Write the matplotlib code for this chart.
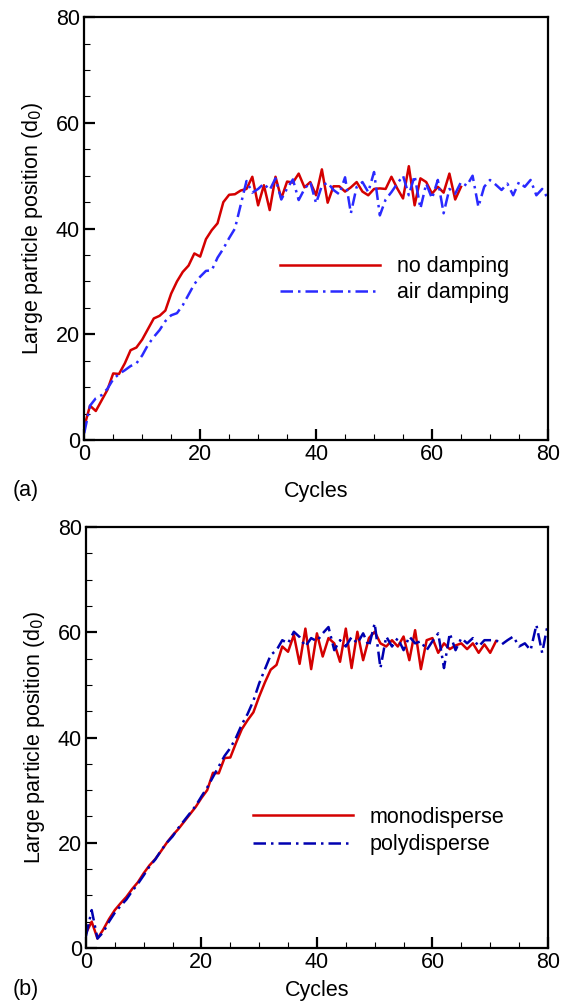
import numpy as np
import matplotlib
matplotlib.use('Agg')
from matplotlib import pyplot as plt
from matplotlib.ticker import MultipleLocator

plt.rcParams['font.family'] = ['Liberation Sans', 'DejaVu Sans']

# (a) no damping vs air damping, one value per cycle
nodamp_x = np.arange(0, 66)
nodamp_y = [2.5, 6.5, 5.5, 7.5, 9.5, 12.6, 12.5, 14.5, 17, 17.5,
            19, 21, 23, 23.5, 24.5, 27.7, 30, 31.8, 33, 35.3,
            34.7, 38, 39.7, 41, 45, 46.4, 46.5, 47.2, 47.5, 49.8,
            44.4, 48.2, 43.5, 49.8, 45.7, 48.9, 48.7, 50.4, 47.8, 48.8,
            46.3, 51.2, 44.9, 48, 48, 47, 47.8, 48.8, 47, 46.3,
            47.5, 47.6, 47.5, 49.8, 47.6, 45.7, 51.8, 44.4, 49.5, 48.8,
            46.6, 47.9, 46.8, 50.4, 45.5, 47.9]
airdamp_x = np.arange(0, 81)
airdamp_y = [1.3, 6.5, 7.9, 8.5, 9.7, 11.5, 12.5, 13.2, 14, 14.5,
             16, 18, 19.5, 20.8, 22.5, 23.6, 24, 25.5, 27.5, 29.5,
             30.9, 32, 32.1, 34.5, 36.2, 38.2, 40, 44.5, 49, 46.8,
             47.5, 48.5, 47.3, 49.5, 45.5, 47.6, 49.3, 45.4, 47.5, 48.8,
             44.8, 48.1, 48.7, 47.3, 46.5, 49.7, 42.9, 47.9, 48.8, 46.9,
             50.7, 42.5, 45.5, 46.9, 48.5, 50, 46.3, 50, 43.8, 48.5,
             45.7, 49.2, 42.9, 47.5, 46.6, 48.8, 48.1, 50, 44.1, 47.9,
             49.2, 48.3, 47.3, 48.5, 46.3, 48.8, 47.9, 49.2, 46.3, 47.5,
             45.7]

# (b) monodisperse vs polydisperse
mono_x = np.arange(0, 72)
mono_y = [2.8, 5, 1.8, 3.5, 5.5, 7.2, 8.5, 9.7, 11.2, 12.5,
          14.2, 15.7, 16.9, 18.4, 20, 21.4, 22.6, 24, 25.4, 26.8,
          28.5, 30, 33.3, 33.2, 36.1, 36.2, 39, 41.6, 43.3, 44.8,
          47.8, 50.5, 52.9, 53.8, 57.3, 56.3, 59.5, 54, 60.7, 53,
          59.8, 55.4, 58.9, 57.9, 54.4, 60.7, 53.2, 60.1, 54.7, 58.9,
          60.1, 57.9, 57.3, 58.5, 57.3, 59.2, 54.7, 60.4, 53, 58.5,
          58.9, 56.1, 57.9, 56.8, 57.5, 57.9, 56.8, 57.9, 56.1, 57.7,
          56.1, 58.3]
poly_x = np.arange(0, 81)
poly_y = [2.2, 7.2, 1.8, 3, 5, 6.7, 8, 9.2, 10.8, 12.2,
          13.8, 15.5, 16.8, 18.5, 20, 21.2, 22.8, 24.2, 25.6, 27,
          28.8, 30.5, 32.5, 34.5, 36.5, 38, 40, 42.5, 44.5, 47,
          50.3, 53, 55.7, 56.6, 58.5, 57.9, 60.1, 59.1, 57.3, 58.9,
          58.3, 59.8, 61, 56.6, 58.5, 57.3, 59.1, 57.9, 59.8, 57.3,
          61.7, 53.2, 59.2, 57.3, 58.9, 56.6, 59.2, 57.9, 58.3, 56.6,
          58.3, 59.8, 53.2, 59.8, 56.6, 58.9, 57.9, 58.9, 57.3, 58.5,
          58.5, 58.5, 57.7, 58.5, 59.2, 57.3, 57.9, 56.6, 61.4, 56.1,
          61.7]

fig = plt.figure(figsize=(5.69, 10.07), dpi=100)
ax1 = fig.add_axes([0.148, 0.563, 0.815, 0.420])
ax2 = fig.add_axes([0.151, 0.0586, 0.812, 0.418])

fs = 15.5
dd = (5, 2, 1, 2)

ax1.plot(nodamp_x, nodamp_y, color='#d40000', lw=1.8, label='no damping')
ax1.plot(airdamp_x, airdamp_y, color='#2a2aff', lw=1.8, dashes=dd, label='air damping')
ax2.plot(mono_x, mono_y, color='#d40000', lw=1.8, label='monodisperse')
ax2.plot(poly_x, poly_y, color='#0000b0', lw=1.8, dashes=dd, label='polydisperse')

for ax in (ax1, ax2):
    ax.set_xlim(0, 80)
    ax.set_ylim(0, 80)
    ax.xaxis.set_major_locator(MultipleLocator(20))
    ax.xaxis.set_minor_locator(MultipleLocator(5))
    ax.yaxis.set_major_locator(MultipleLocator(20))
    ax.yaxis.set_minor_locator(MultipleLocator(5))
    ax.tick_params(which='major', direction='in', length=8, width=1.6, labelsize=fs, pad=3)
    ax.tick_params(which='minor', direction='in', length=4, width=0.8)
    ax.tick_params(which='both', top=False, right=False)
    for s in ax.spines.values():
        s.set_linewidth(1.6)
    ax.set_ylabel('Large particle position (d$_0$)', fontsize=fs, labelpad=8)

ax1.set_xlabel('Cycles', fontsize=fs, labelpad=11)
ax2.set_xlabel('Cycles', fontsize=fs, labelpad=5)

ax1.legend(loc='upper left', bbox_to_anchor=(0.422, 0.435), frameon=False, fontsize=fs,
           borderpad=0, borderaxespad=0, handlelength=4.65, handletextpad=0.8, labelspacing=0.25)
ax2.legend(loc='upper left', bbox_to_anchor=(0.361, 0.335), frameon=False, fontsize=fs,
           borderpad=0, borderaxespad=0, handlelength=4.65, handletextpad=0.8, labelspacing=0.3)

fig.text(0.022, 1 - 490 / 1007, '(a)', fontsize=fs, va='center')
fig.text(0.022, 1 - 990 / 1007, '(b)', fontsize=fs, va='center')

fig.savefig('out.png', dpi=100)
